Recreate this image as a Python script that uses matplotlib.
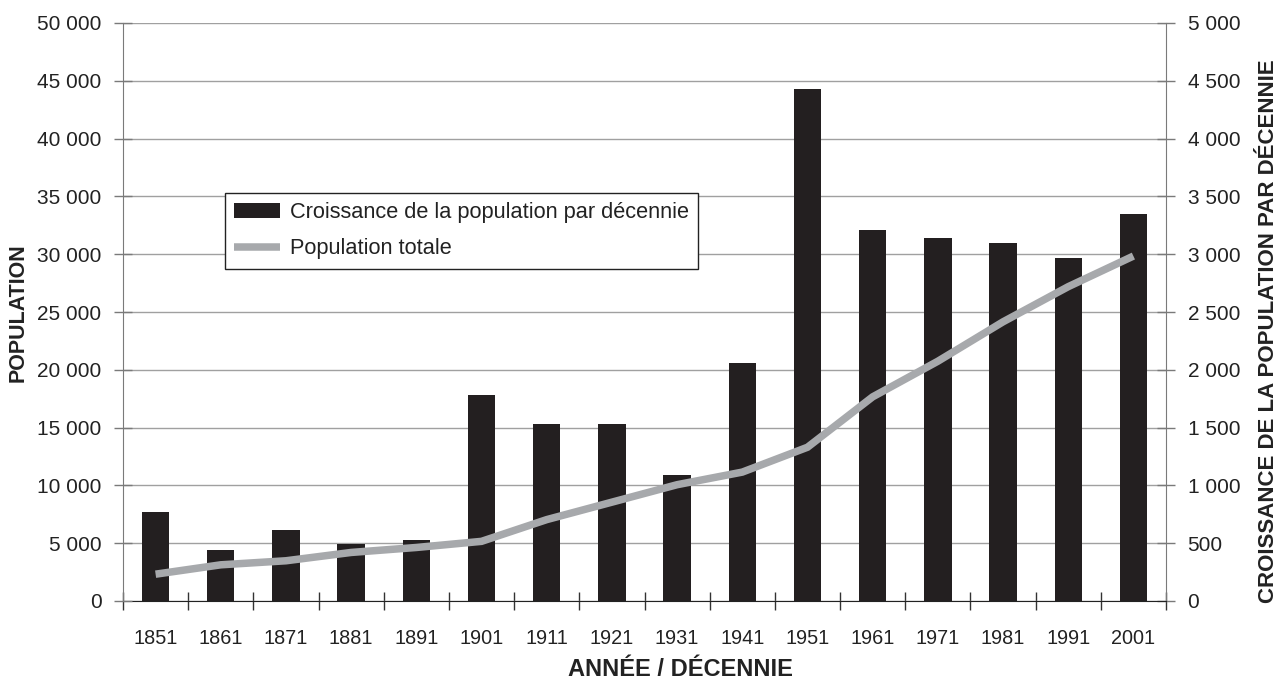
import matplotlib
matplotlib.use("Agg")
import matplotlib.pyplot as plt
from matplotlib.ticker import FuncFormatter, FixedLocator
from matplotlib.patches import Patch
from matplotlib.lines import Line2D
import numpy as np

plt.rcParams['font.family'] = ['Liberation Sans', 'DejaVu Sans']

years = ['1851', '1861', '1871', '1881', '1891', '1901', '1911', '1921',
         '1931', '1941', '1951', '1961', '1971', '1981', '1991', '2001']
growth = [771, 437, 611, 496, 525, 1780, 1535, 1535,
          1092, 2061, 4429, 3209, 3139, 3093, 2964, 3351]
population = [2320, 3130, 3480, 4200, 4630, 5160, 7040, 8550,
              10060, 11150, 13300, 17660, 20740, 24150, 27190, 29840]

left_ticks = [0, 5000, 10000, 15000, 20000, 25000, 30000, 35000, 40000, 45000, 50000]
right_ticks = [0, 500, 1000, 1500, 2000, 2500, 3000, 3500, 4000, 4500, 5000]

bar_color = '#231f20'
line_color = '#a7a9ac'
grid_color = '#a0a0a0'
spine_color = '#7a7a7a'
text_color = '#222222'

W, H = 1281, 681
fig = plt.figure(figsize=(W / 100, H / 100), dpi=100)
ax_l, ax_r, ax_b, ax_t = 123, 1166, 601, 23
ax = fig.add_axes([ax_l / W, 1 - ax_b / H, (ax_r - ax_l) / W, (ax_b - ax_t) / H])

x = np.arange(len(years))
fmt = FuncFormatter(lambda v, p: f"{int(round(v)):,}".replace(",", " "))

# bars on main axes (growth scale, displayed on the right)
ax.bar(x, growth, width=0.42, color=bar_color, zorder=2)
ax.set_ylim(0, 5000)
ax.set_xlim(-0.5, len(years) - 0.5)
ax.grid(axis='y', color=grid_color, linewidth=1.0, zorder=0)
ax.set_axisbelow(True)

# x ticks at category boundaries, labels at centres
ax.set_xticks(np.arange(-0.5, len(years) + 0.5, 1.0))
ax.set_xticklabels([])
ax.set_xticks(x, minor=True)
ax.set_xticklabels(years, minor=True)
ax.tick_params(axis='x', which='major', direction='inout', length=13, width=1, color='#333333')
ax.tick_params(axis='x', which='minor', length=0, pad=20, labelsize=14.3, labelcolor=text_color)

ax.spines['top'].set_visible(False)
ax.spines['left'].set_color(spine_color)
ax.spines['right'].set_color(spine_color)
ax.spines['bottom'].set_color('#222222')

# line on twin axes (population scale, displayed on the left)
ax2 = ax.twinx()
ax2.plot(x, population, color=line_color, linewidth=5.4, solid_joinstyle='miter',
         solid_capstyle='butt', zorder=3)
ax2.set_ylim(0, 50000)
ax2.yaxis.set_major_locator(FixedLocator(left_ticks))
ax2.yaxis.set_major_formatter(fmt)
ax2.yaxis.tick_left()
ax2.tick_params(axis='y', direction='inout', length=13, width=1, color=spine_color,
                pad=9, labelsize=15, labelcolor=text_color)
for s in ['top', 'bottom', 'left', 'right']:
    ax2.spines[s].set_visible(False)

# growth axis ticks on the right
ax.yaxis.set_major_locator(FixedLocator(right_ticks))
ax.yaxis.set_major_formatter(fmt)
ax.yaxis.tick_right()
ax.tick_params(axis='y', which='both', left=False, labelleft=False, right=True, labelright=True,
               direction='inout', length=13, width=1, color=spine_color,
               pad=9, labelsize=15, labelcolor=text_color)

fig.text(18 / W, 1 - 313 / H, 'POPULATION', rotation=90, ha='center', va='center',
         fontsize=15.5, fontweight='bold', color=text_color)
fig.text(1269 / W, 1 - 331 / H, 'CROISSANCE DE LA POPULATION PAR DÉCENNIE', rotation=90,
         ha='center', va='center', fontsize=16, fontweight='bold', color=text_color)
fig.text(680 / W, 1 - 670 / H, 'ANNÉE / DÉCENNIE', ha='center', va='center',
         fontsize=17, fontweight='bold', color=text_color)

handles = [Patch(facecolor=bar_color, edgecolor='none'),
           Line2D([0], [0], color=line_color, linewidth=5.4, solid_capstyle='butt')]
labels = ['Croissance de la population par décennie', 'Population totale']
leg = ax2.legend(handles, labels, loc='upper left',
                 bbox_to_anchor=(225 / W, 1 - 193 / H), bbox_transform=fig.transFigure,
                 fontsize=15.7, frameon=True, fancybox=False, framealpha=1,
                 edgecolor='#222222', handlelength=2.1, handleheight=0.65,
                 handletextpad=0.45, labelspacing=0.7, borderpad=0.42, borderaxespad=0)
leg.get_frame().set_linewidth(1.0)
for t in leg.get_texts():
    t.set_color(text_color)

fig.savefig('out.png', dpi=100)
